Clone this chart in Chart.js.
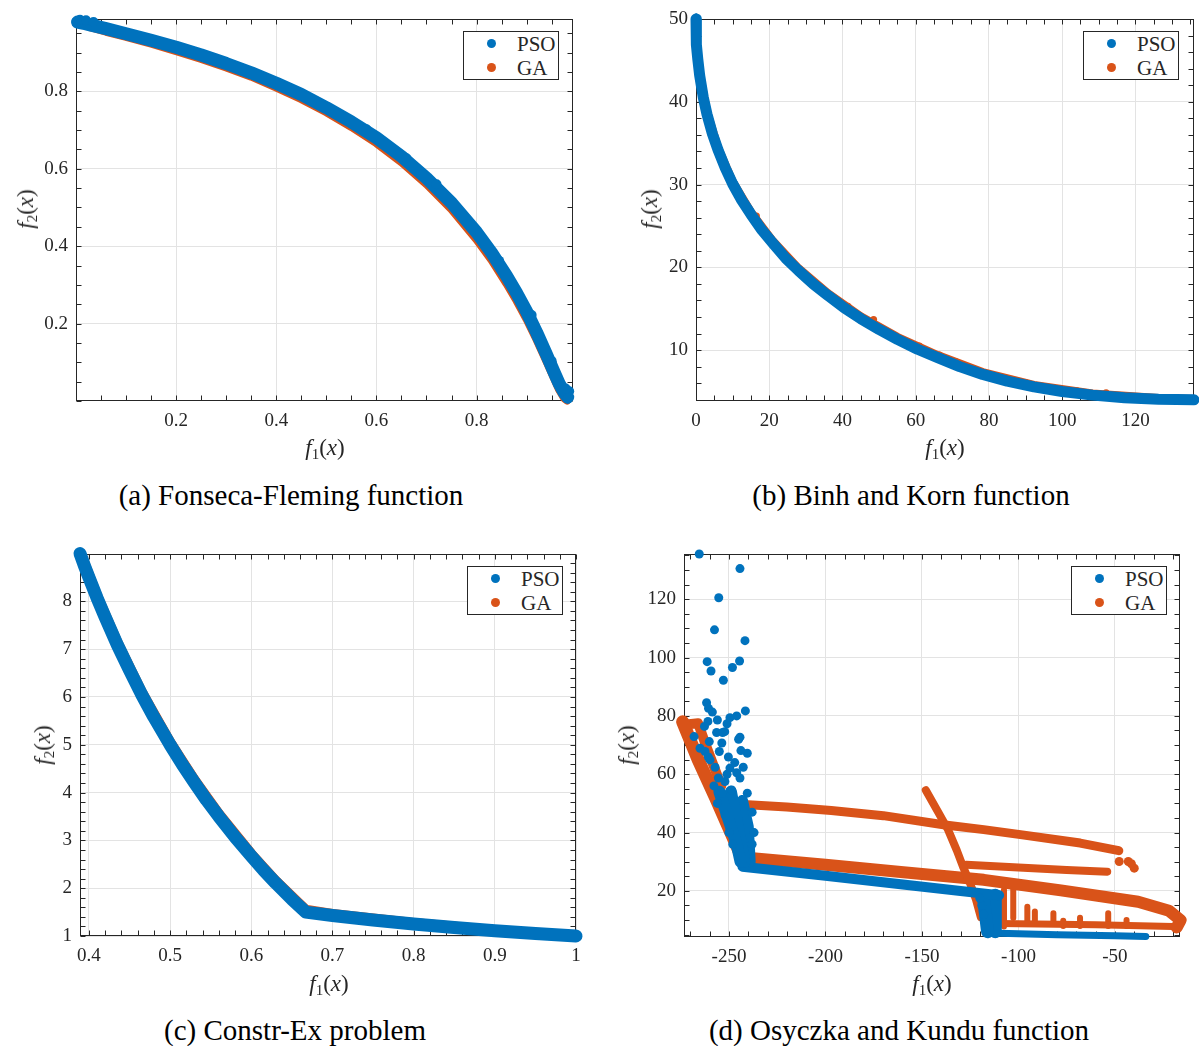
<!DOCTYPE html>
<html>
<head>
<meta charset="utf-8">
<script src="https://cdn.jsdelivr.net/npm/chart.js@4.4.1/dist/chart.umd.min.js"></script>
<style>
  body { margin: 0; background: #fff; width: 1199px; height: 1046px; position: relative; overflow: hidden; }
  canvas { position: absolute; }
  .lbl { position: absolute; font-family: 'Liberation Serif', 'DejaVu Serif', serif; font-size: 23px; color: #262626; white-space: nowrap; transform: translate(-50%, -50%); }
  .lbl sub { font-size: 15px; vertical-align: -4px; }
  .ylbl { transform: translate(-50%, -50%) rotate(-90deg); }
  .cap { position: absolute; font-family: 'Liberation Serif', 'Times New Roman', serif; font-size: 29px; color: #000; white-space: nowrap; transform: translate(-50%, -50%); }
  .legend { position: absolute; width: 94px; height: 47px; border: 1px solid #262626; background: #fff; font-family: 'Liberation Serif', serif; font-size: 21px; color: #262626; }
  .legend .row { position: absolute; left: 0; height: 24px; width: 94px; }
  .legend .dot { position: absolute; left: 23px; top: 7px; width: 9px; height: 9px; border-radius: 50%; }
  .legend .txt { position: absolute; left: 53px; top: 0; line-height: 24px; }
</style>
</head>
<body>
<canvas id="chartA"></canvas>
<canvas id="chartB"></canvas>
<canvas id="chartC"></canvas>
<canvas id="chartD"></canvas>

<div class="lbl" style="left:325px;top:449px"><i>f</i><sub>1</sub>(<i>x</i>)</div>
<div class="lbl ylbl" style="left:27px;top:209px"><i>f</i><sub>2</sub>(<i>x</i>)</div>
<div class="cap" style="left:291px;top:495px">(a) Fonseca-Fleming function</div>

<div class="lbl" style="left:945px;top:449px"><i>f</i><sub>1</sub>(<i>x</i>)</div>
<div class="lbl ylbl" style="left:651px;top:209px"><i>f</i><sub>2</sub>(<i>x</i>)</div>
<div class="cap" style="left:911px;top:495px">(b) Binh and Korn function</div>

<div class="lbl" style="left:329px;top:985px"><i>f</i><sub>1</sub>(<i>x</i>)</div>
<div class="lbl ylbl" style="left:44px;top:745px"><i>f</i><sub>2</sub>(<i>x</i>)</div>
<div class="cap" style="left:295px;top:1030px">(c) Constr-Ex problem</div>

<div class="lbl" style="left:932px;top:985px"><i>f</i><sub>1</sub>(<i>x</i>)</div>
<div class="lbl ylbl" style="left:628px;top:745px"><i>f</i><sub>2</sub>(<i>x</i>)</div>
<div class="cap" style="left:899px;top:1030px">(d) Osyczka and Kundu function</div>

<script>
// colours (MATLAB defaults)
const PSO_COLOR = '#0072BD';
const GA_COLOR = '#D95319';

// (a) Fonseca-Fleming
const fonsecaXTicks = [0.2, 0.4, 0.6, 0.8];
const fonsecaYTicks = [0.2, 0.4, 0.6, 0.8];
const fonsecaPso = [[0.003,0.979],[0.015,0.976],[0.03,0.971],[0.06,0.962],[0.1,0.949],[0.15,0.932],[0.2,0.914],
  [0.25,0.894],[0.3,0.872],[0.35,0.848],[0.4,0.821],[0.45,0.792],[0.5,0.758],[0.55,0.721],[0.6,0.680],
  [0.65,0.632],[0.7,0.576],[0.75,0.512],[0.8,0.436],[0.83,0.383],[0.86,0.323],[0.88,0.279],[0.9,0.231],
  [0.92,0.177],[0.94,0.119],[0.955,0.074],[0.965,0.045],[0.975,0.022],[0.982,0.01]];
const fonsecaPsoDots = [[0.008,0.985],[0.02,0.984],[0.035,0.979],[0.985,0.025],[0.982,0.006],[0.978,0.032],
  [0.58,0.702],[0.66,0.627],[0.72,0.560],[0.845,0.362],[0.91,0.222],[0.95,0.103]];
const fonsecaGa = [[0.0,0.981],[0.03,0.965],[0.06,0.954],[0.1,0.941],[0.15,0.923],[0.2,0.904],[0.25,0.884],
  [0.3,0.862],[0.35,0.838],[0.4,0.810],[0.45,0.780],[0.5,0.746],[0.55,0.708],[0.6,0.666],[0.65,0.617],
  [0.7,0.560],[0.75,0.495],[0.8,0.417],[0.83,0.364],[0.86,0.303],[0.88,0.259],[0.9,0.211],[0.92,0.158],
  [0.94,0.101],[0.955,0.058],[0.965,0.029],[0.975,0.007],[0.981,0.001]];

// (b) Binh and Korn
const binhXTicks = [0, 20, 40, 60, 80, 100, 120];
const binhYTicks = [10, 20, 30, 40, 50];
const binhPso = [[0,50],[0.02,49],[0.08,48],[0.2,46.9],[0.5,45.1],[1,43.2],[2,40.5],[3,38.5],[4.5,36.1],
  [6,34.2],[8,32],[10,30.1],[12.5,28.1],[15,26.4],[18,24.5],[21,22.9],[24.5,21.1],[28,19.6],[32,18],
  [36,16.6],[40.5,15.1],[45,13.8],[50,12.5],[55,11.3],[60.5,10.1],[66,9.1],[72,8],[78.3,7.06],[85,6.25],
  [92.3,5.56],[100,5],[108.3,4.56],[117,4.25],[126.3,4.06],[136,4]];
const binhGa = [[0,49.8],[0.2,47.1],[1,43.5],[3,38.8],[6,34.5],[10,30.4],[15,26.7],[21,23.2],[28,19.9],
  [36,16.9],[45,14.1],[55,11.6],[66,9.4],[78.3,7.35],[92.3,5.8],[108.3,4.75],[126.3,4.2],[136,4.1]];
const binhGaDots = [[16.5,26.2],[41.5,15.3],[48.5,13.7],[61,10.5],[66.5,9.4],[71,8.6],[90,6.1],[104,5.1],[112,4.85]];

// (c) Constr-Ex
const constrXTicks = [0.4, 0.5, 0.6, 0.7, 0.8, 0.9, 1];
const constrYTicks = [1, 2, 3, 4, 5, 6, 7, 8];
const constrPso = [[0.389,9.0],[0.395,8.72],[0.40,8.5],[0.41,8.07],[0.42,7.67],[0.435,7.09],[0.45,6.56],
  [0.465,6.05],[0.48,5.58],[0.5,5.0],[0.515,4.59],[0.53,4.21],[0.545,3.84],[0.56,3.5],[0.58,3.07],[0.6,2.67],
  [0.615,2.38],[0.63,2.11],[0.65,1.77],[0.667,1.5],[0.7,1.43],[0.75,1.333],[0.8,1.25],[0.85,1.176],
  [0.9,1.111],[0.95,1.053],[1.0,1.0]];
const constrGa = [[0.39,9.0],[0.41,8.12],[0.435,7.15],[0.465,6.11],[0.5,5.06],[0.53,4.27],[0.56,3.56],
  [0.6,2.72],[0.63,2.16],[0.667,1.55],[0.7,1.46],[0.8,1.27],[0.9,1.12],[1.0,1.005]];

// (d) Osyczka and Kundu
const osyXTicks = [-250, -200, -150, -100, -50];
const osyYTicks = [20, 40, 60, 80, 100, 120];
const osyPsoDots = [[-265.4,135.5],[-244.3,130.5],[-255.3,120.5],[-257.5,109.5],[-241.7,105.8],[-261.3,98.6],
  [-244.5,98.8],[-259.3,95.4],[-248.2,96.6],[-252.9,92.2],[-261.6,84.5],[-260.6,82.6],[-258.6,81.3],
  [-241.5,81.7],[-246,80],[-249.5,79.4],[-256,78.6],[-260.9,78.1],[-251,77.3],[-262.7,76.4],[-252.2,74.6],
  [-256.4,74.3],[-244.3,72.7],[-268.1,72.9],[-260.2,71.2],[-253.3,74.3],[-245,72],[-243.8,68.1],[-240.5,67.2],
  [-265,68.9],[-262.4,67.8],[-260.7,65.9],[-259.8,64.9],[-255,67.8],[-253.7,70.7],[-250.3,65.9],[-257.2,62.4],
  [-249.5,62.1],[-242.6,62.4],[-244.3,58.7],[-255.5,58.7],[-257.8,56],[-252.1,57.5],[-248.6,54.6],
  [-240.5,53.5],[-253.7,53.5],[-246,60.5],[-251,60],[-247,64],[-119,15],[-120,17.5],[-118,12],
  [-256,50],[-252,46],[-238,47],[-237,40],[-238,36],[-250,40],[-248,36]];
const osyPsoClusterA = [[-255,54],[-251,46],[-246,36],[-244,30]];
const osyPsoClusterB = [[-249,54],[-246,44],[-242,30]];
const osyPsoClusterC = [[-243,51],[-240,42],[-239,30]];
const osyPsoMain = [[-243,28.3],[-200,25.2],[-161,22.3],[-130,20],[-110,18.5]];
const osyPsoVertA = [[-118,17],[-116,6]];
const osyPsoVertB = [[-112,18.5],[-112,6]];
const osyPsoBottom = [[-115,5.6],[-80,5.0],[-50,4.6],[-34,4.4]];

const osyGaSteep = [[-274,78],[-266,65],[-257,52],[-249,40],[-243,31]];
const osyGaSteepTop = [[-273,77],[-266,77.5],[-262,70],[-254,56]];
const osyGaUpper = [[-240,49.5],[-220,48.8],[-197,47.6],[-170,45.8],[-138,42.6],[-118,41],[-98,39.2],[-68,36.4],[-48,33.8]];
const osyGaUpperDots = [[-47.8,30.1],[-43.1,30.1],[-40,27.8],[-41.5,29.3]];
const osyGaDiagonal = [[-148,54.5],[-142,47.5],[-136.5,41],[-132,34],[-128.8,28.4],[-125,22.5],[-122,17],[-119.5,11]];
const osyGaMiddle = [[-127,29],[-100,28],[-75,27.2],[-54,26.6]];
const osyGaMain = [[-242,31.5],[-200,29],[-161,26.5],[-118,23.8],[-78,20.2],[-38,16.3],[-22,13.2],[-16,10],[-18,7.5]];
const osyGaBottom = [[-110,8.8],[-60,8.4],[-20,7.8]];
const osyGaCombs = [[-107.5,20.4,7.8],[-102.7,20.4,10.7],[-95.4,14.6,8.9],[-91.5,12.9,8.9],[-81.9,12.3,8.9],
  [-76.8,9.8,8],[-68.1,10.8,8],[-53.5,12.3,8],[-44,10,8]];

function toXY(points) {
  return points.map(p => ({ x: p[0], y: p[1] }));
}

function band(points, color, width) {
  return {
    data: toXY(points), showLine: true, borderColor: color, backgroundColor: color,
    borderWidth: width, pointRadius: 0, borderCapStyle: 'round', borderJoinStyle: 'round',
    tension: 0, clip: 14
  };
}

function dots(points, color, r) {
  return {
    data: toXY(points), showLine: false, backgroundColor: color, borderWidth: 0,
    pointRadius: r, clip: 14
  };
}

// box, inward ticks and minor ticks like MATLAB axes
const matlabBox = {
  id: 'matlabBox',
  beforeDatasetsDraw(chart, args, opts) {
    const { ctx, chartArea: a, scales } = chart;
    const L = Math.round(a.left) + 0.5, R = Math.round(a.right) - 0.5;
    const T = Math.round(a.top) + 0.5, B = Math.round(a.bottom) - 0.5;
    ctx.save();
    ctx.strokeStyle = '#262626';
    ctx.lineWidth = 1;
    ctx.beginPath();
    const xs = scales.x, ys = scales.y;
    for (let v = Math.ceil(xs.min / opts.xMinor) * opts.xMinor; v <= xs.max + 1e-9; v += opts.xMinor) {
      const px = Math.round(xs.getPixelForValue(v)) + 0.5;
      ctx.moveTo(px, B); ctx.lineTo(px, B - 5);
      ctx.moveTo(px, T); ctx.lineTo(px, T + 5);
    }
    for (let v = Math.ceil(ys.min / opts.yMinor) * opts.yMinor; v <= ys.max + 1e-9; v += opts.yMinor) {
      const py = Math.round(ys.getPixelForValue(v)) + 0.5;
      ctx.moveTo(L, py); ctx.lineTo(L + 5, py);
      ctx.moveTo(R, py); ctx.lineTo(R - 5, py);
    }
    ctx.stroke();
    ctx.strokeRect(L, T, R - L, B - T);
    ctx.restore();
  }
};

const tickFont = { family: "'Liberation Serif', 'DejaVu Serif', serif", size: 19 };

function axis(min, max, ticks, isY) {
  return {
    type: 'linear', min: min, max: max,
    afterBuildTicks: ax => { ax.ticks = ticks.map(v => ({ value: v })); },
    afterFit: ax => { if (isY) ax.width = 70; else ax.height = 45; },
    grid: { color: '#e3e3e3', drawTicks: false },
    border: { display: false },
    ticks: {
      font: tickFont, color: '#262626', padding: isY ? 8 : 9,
      autoSkip: false, maxRotation: 0, callback: v => String(v)
    }
  };
}

function makeChart(id, box, xr, yr, xTicks, yTicks, minor, datasets) {
  const el = document.getElementById(id);
  const w = (box.r - box.l) + 70 + 22;
  const h = (box.b - box.t) + 22 + 45;
  el.width = w; el.height = h;
  el.style.left = (box.l - 70) + 'px';
  el.style.top = (box.t - 22) + 'px';
  el.style.width = w + 'px';
  el.style.height = h + 'px';
  return new Chart(el, {
    type: 'scatter',
    data: { datasets: datasets },
    options: {
      responsive: false, animation: false, devicePixelRatio: 1, events: [],
      layout: { padding: { left: 0, top: 22, right: 22, bottom: 0 } },
      scales: { x: axis(xr[0], xr[1], xTicks, false), y: axis(yr[0], yr[1], yTicks, true) },
      plugins: { legend: { display: false }, tooltip: { enabled: false }, matlabBox: minor }
    },
    plugins: [matlabBox]
  });
}

makeChart('chartA', { l: 76, t: 19, r: 573, b: 401 }, [0, 0.9926], [0, 0.987],
  fonsecaXTicks, fonsecaYTicks, { xMinor: 0.05, yMinor: 0.05 }, [
    dots(fonsecaPsoDots, PSO_COLOR, 5),
    band(fonsecaPso, PSO_COLOR, 13),
    band(fonsecaGa, GA_COLOR, 8)
  ]);

makeChart('chartB', { l: 696, t: 19, r: 1194, b: 401 }, [0, 136], [3.85, 50],
  binhXTicks, binhYTicks, { xMinor: 5, yMinor: 2 }, [
    band(binhPso, PSO_COLOR, 11),
    dots(binhGaDots, GA_COLOR, 3.5),
    band(binhGa, GA_COLOR, 8)
  ]);

makeChart('chartC', { l: 80, t: 554, r: 576, b: 936 }, [0.389, 1.0], [1.0, 8.99],
  constrXTicks, constrYTicks, { xMinor: 0.02, yMinor: 0.2 }, [
    band(constrPso, PSO_COLOR, 13),
    band(constrGa, GA_COLOR, 10)
  ]);

const osyDatasets = [
  dots(osyPsoDots, PSO_COLOR, 4.5),
  band(osyPsoClusterA, PSO_COLOR, 12),
  band(osyPsoClusterB, PSO_COLOR, 12),
  band(osyPsoClusterC, PSO_COLOR, 11),
  band(osyPsoMain, PSO_COLOR, 10),
  band(osyPsoVertA, PSO_COLOR, 13),
  band(osyPsoVertB, PSO_COLOR, 13),
  band(osyPsoBottom, PSO_COLOR, 7),
  band(osyGaSteep, GA_COLOR, 13),
  band(osyGaSteepTop, GA_COLOR, 10),
  band(osyGaUpper, GA_COLOR, 9),
  dots(osyGaUpperDots, GA_COLOR, 4.5),
  band(osyGaDiagonal, GA_COLOR, 8),
  band(osyGaMiddle, GA_COLOR, 8),
  band(osyGaMain, GA_COLOR, 12),
  band(osyGaBottom, GA_COLOR, 7)
];
osyGaCombs.forEach(c => osyDatasets.push(band([[c[0], c[1]], [c[0], c[2]]], GA_COLOR, 6)));

makeChart('chartD', { l: 684, t: 554, r: 1180, b: 937 }, [-273.3, -16.3], [4.2, 135.5],
  osyXTicks, osyYTicks, { xMinor: 10, yMinor: 5 }, osyDatasets);
</script>

<div class="legend" style="left:463px;top:31px">
  <div class="row" style="top:0"><span class="dot" style="background:#0072BD"></span><span class="txt">PSO</span></div>
  <div class="row" style="top:24px"><span class="dot" style="background:#D95319"></span><span class="txt">GA</span></div>
</div>
<div class="legend" style="left:1083px;top:31px">
  <div class="row" style="top:0"><span class="dot" style="background:#0072BD"></span><span class="txt">PSO</span></div>
  <div class="row" style="top:24px"><span class="dot" style="background:#D95319"></span><span class="txt">GA</span></div>
</div>
<div class="legend" style="left:467px;top:566px">
  <div class="row" style="top:0"><span class="dot" style="background:#0072BD"></span><span class="txt">PSO</span></div>
  <div class="row" style="top:24px"><span class="dot" style="background:#D95319"></span><span class="txt">GA</span></div>
</div>
<div class="legend" style="left:1071px;top:566px">
  <div class="row" style="top:0"><span class="dot" style="background:#0072BD"></span><span class="txt">PSO</span></div>
  <div class="row" style="top:24px"><span class="dot" style="background:#D95319"></span><span class="txt">GA</span></div>
</div>
</body>
</html>
